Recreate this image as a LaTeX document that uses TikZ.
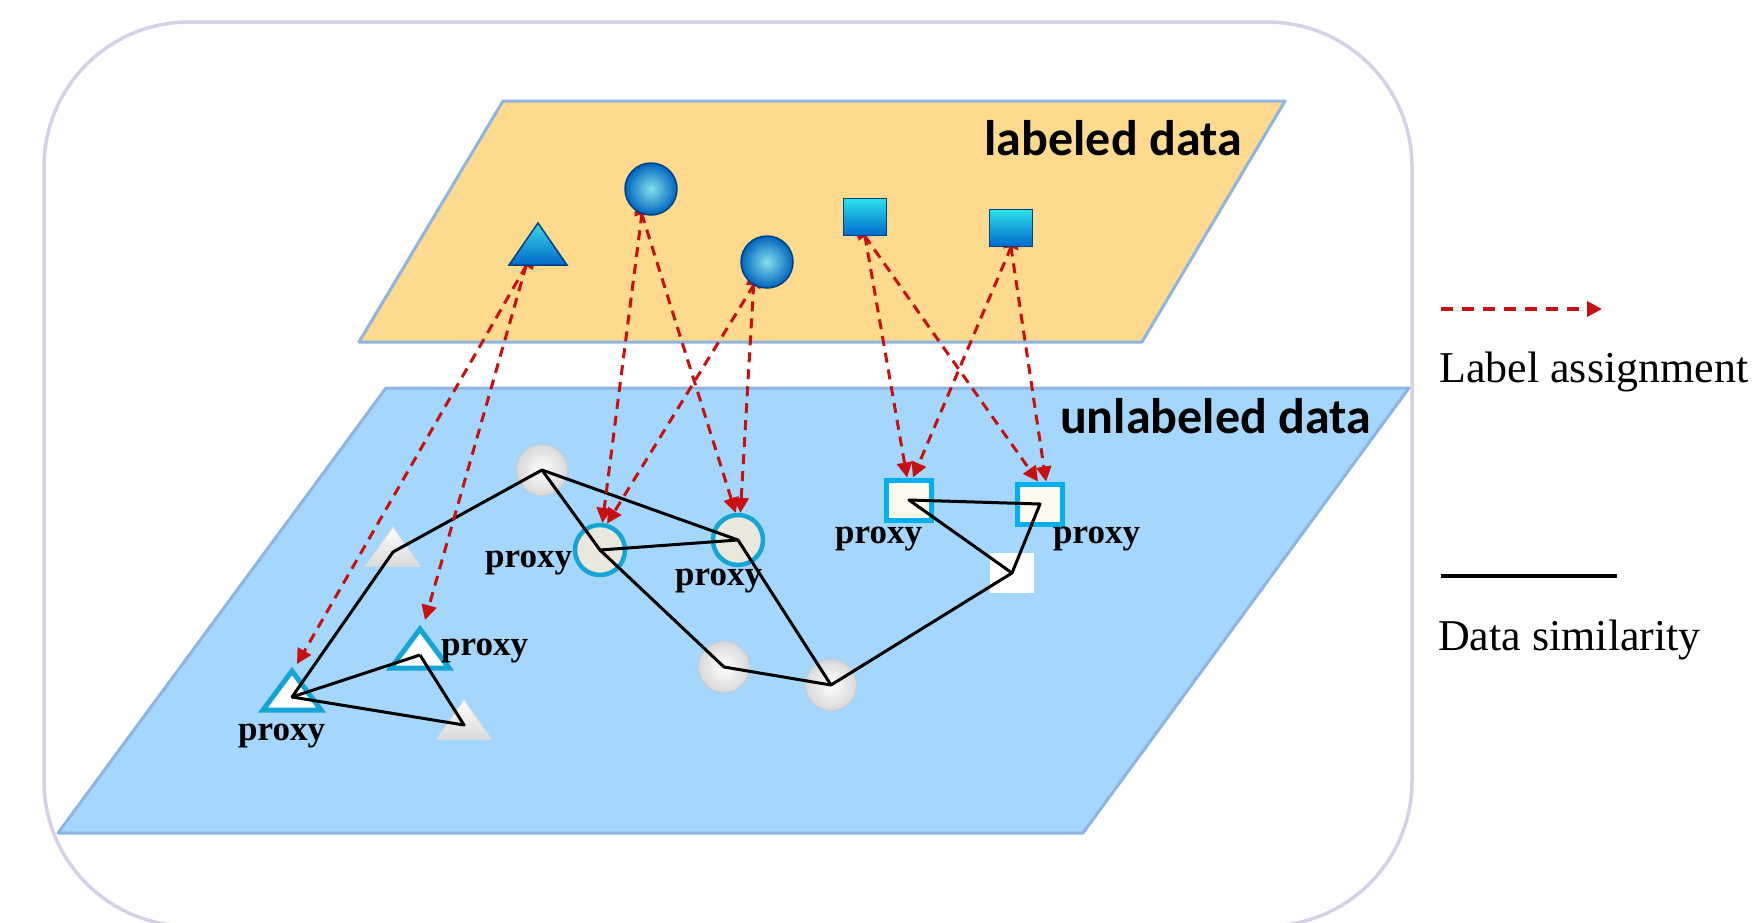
\documentclass[tikz,border=0pt]{standalone}
\usepackage{fontspec}
\setmainfont{Liberation Serif}
\newfontfamily\calibri{Carlito}
\usepackage{tikz}
\usetikzlibrary{arrows.meta, positioning}
\pgfdeclarelayer{back}
\pgfdeclarelayer{front}
\pgfsetlayers{back,main,front}

\definecolor{planeedge}{RGB}{141,180,226}
\definecolor{labfill}{RGB}{253,218,141}
\definecolor{unlabfill}{RGB}{165,214,252}
\definecolor{framecol}{RGB}{216,208,230}
\definecolor{arrowred}{RGB}{200,16,16}
\definecolor{proxyblue}{RGB}{20,165,215}
\definecolor{darkblue}{RGB}{0,65,130}

\tikzset{
  labtri/.pic={\draw[draw=darkblue, line width=1.5pt, top color={rgb,255:red,60;green,215;blue,235}, bottom color={rgb,255:red,0;green,105;blue,200}] (0,-28) -- (29,14) -- (-29,14) -- cycle;},
  proxytri/.pic={\draw[draw=proxyblue, fill=white, line width=5pt] (0,-26) -- (29,13) -- (-29,13) -- cycle;},
  greytri/.pic={\draw[draw=gray!25, top color=white, bottom color=gray!30, line width=1pt] (0,-25) -- (27,14) -- (-27,14) -- cycle;}
}

\begin{document}
\begin{tikzpicture}[x=1pt, y=-1pt,
  frame/.style={draw=framecol, line width=3.5pt, rounded corners=145pt},
  plane/.style={draw=planeedge, line width=3pt, line join=round},
  planelbl/.style={font=\calibri\bfseries\fontsize{50}{56}\selectfont, inner sep=0pt, anchor=base east},
  labball/.style={circle, minimum size=52pt, inner sep=0pt, inner color={rgb,255:red,130;green,225;blue,235}, outer color={rgb,255:red,0;green,100;blue,190}, draw=darkblue, line width=1.5pt},
  labsq/.style={rectangle, minimum width=43pt, minimum height=37pt, inner sep=0pt, top color={rgb,255:red,45;green,225;blue,235}, bottom color={rgb,255:red,0;green,105;blue,205}, draw=darkblue, line width=1.5pt},
  whiteball/.style={circle, minimum size=51pt, inner sep=0pt, inner color=white, outer color=gray!30, draw=gray!40, line width=0.8pt},
  proxyball/.style={circle, minimum size=50pt, inner sep=0pt, fill={rgb,255:red,234;green,232;blue,220}, draw=proxyblue, line width=4.5pt},
  proxysq/.style={rectangle, minimum width=45pt, minimum height=40pt, inner sep=0pt, fill={rgb,255:red,253;green,250;blue,238}, draw={rgb,255:red,0;green,176;blue,240}, line width=5pt},
  whitesq/.style={rectangle, minimum width=44pt, minimum height=40pt, inner sep=0pt, fill=white},
  proxylbl/.style={font=\bfseries\fontsize{35}{40}\selectfont, inner sep=0pt, anchor=base west},
  legendlbl/.style={font=\fontsize{44}{50}\selectfont, inner sep=0pt, anchor=base west},
  simline/.style={line width=3pt, line join=round},
  assign/.style={draw=arrowred, line width=3pt, dash pattern=on 10pt off 7pt, -{Triangle[length=15pt, width=15pt]}},
  twoway/.style={{Triangle[length=15pt, width=15pt]}-{Triangle[length=15pt, width=15pt]}, shorten <=-15pt}
]
\useasboundingbox (0,0) rectangle (1754,922);

% Frame and the two planes
\begin{pgfonlayer}{back}
  \draw[frame] (44,22) rectangle (1412,926);
  \draw[plane, fill=labfill] (503,101) -- (1285,101) -- (1142,342) -- (359,342) -- cycle;
  \draw[plane, fill=unlabfill] (386,388) -- (1409,388) -- (1083,833) -- (58,833) -- cycle;
  \node[planelbl] (labtxt) at (1242,155) {labeled data};
  \node[planelbl] (unlabtxt) at (1371,433) {unlabeled data};
\end{pgfonlayer}

% Labeled data
\begin{pgfonlayer}{front}
  \coordinate (ltri) at (538,251);
  \pic at (ltri) {labtri};
  \coordinate (ltribase) at (526,266);
  \node[labball] (lcirca) at (651,189) {};
  \node[labball] (lcircb) at (767,262) {};
  \node[labsq] (lsqa) at (865,217) {};
  \node[labsq] (lsqb) at (1011,228) {};
\end{pgfonlayer}

% Unlabeled data
\node[whiteball] (ucirca) at (542,470) {};
\coordinate (utria) at (393,552);
\pic at (utria) {greytri};
\coordinate (ptria) at (292,697);
\pic at (ptria) {proxytri};
\coordinate (ptriatip) at (297,664);
\coordinate (ptrib) at (420,655);
\pic at (ptrib) {proxytri};
\coordinate (ptribtip) at (425,620);
\coordinate (utrib) at (464,725);
\pic at (utrib) {greytri};
\node[proxyball] (pcirca) at (600,550) {};
\node[proxyball] (pcircb) at (738,540) {};
\node[whiteball] (ucircb) at (724,667) {};
\node[whiteball] (ucircc) at (831,685) {};
\node[proxysq] (psqa) at (909,500) {};
\node[proxysq] (psqb) at (1040,504) {};
\node[whitesq] (usq) at (1012,573) {};

\node[proxylbl] (ptriatxt) at (238,740) {proxy};
\node[proxylbl] (ptribtxt) at (441,655) {proxy};
\node[proxylbl] (pcircatxt) at (485,567) {proxy};
\node[proxylbl] (pcircbtxt) at (675,585) {proxy};
\node[proxylbl] (psqatxt) at (835,543) {proxy};
\node[proxylbl] (psqbtxt) at (1053,543) {proxy};

% Data similarity
\draw[simline] (ptrib) -- (ptria) -- (utria) -- (ucirca.center) -- (pcircb.center) -- (ucircc.center) -- (usq.center) -- (psqa.center) -- (psqb.center) -- (usq.center);
\draw[simline] (ptria) -- (utrib) -- (ptrib);
\draw[simline] (ucirca.center) -- (pcirca.center) -- (pcircb.center);
\draw[simline] (pcirca.center) -- (ucircb.center) -- (ucircc.center);

% Label assignment
\draw[assign, twoway] (ltribase) -- (ptriatip);
\draw[assign, twoway] (ltribase) -- (ptribtip);
\draw[assign, twoway] (lcirca.250) -- (pcirca.85);
\draw[assign, twoway] (lcirca.250) -- (pcircb.95);
\draw[assign, twoway] (lcircb.240) -- (pcirca.75);
\draw[assign, twoway] (lcircb.240) -- (pcircb.85);
\draw[assign, twoway] (lsqa.south) -- (psqa.95);
\draw[assign, twoway] (lsqa.south) -- (psqb.95);
\draw[assign, twoway] (lsqb.south) -- (psqa.80);
\draw[assign, twoway] (lsqb.south) -- (psqb.75);

% Legend
\coordinate (lgassa) at (1441,309);
\coordinate (lgassb) at (1602,309);
\draw[assign, dash pattern=on 12pt off 9pt, line width=3.5pt] (lgassa) -- (lgassb);
\node[legendlbl] (lgasstxt) at (1439,382) {Label assignment};
\coordinate (lgsima) at (1441,576);
\coordinate (lgsimb) at (1617,576);
\draw[simline, line width=3.5pt] (lgsima) -- (lgsimb);
\node[legendlbl] (lgsimtxt) at (1438,650) {Data similarity};
\end{tikzpicture}
\end{document}
